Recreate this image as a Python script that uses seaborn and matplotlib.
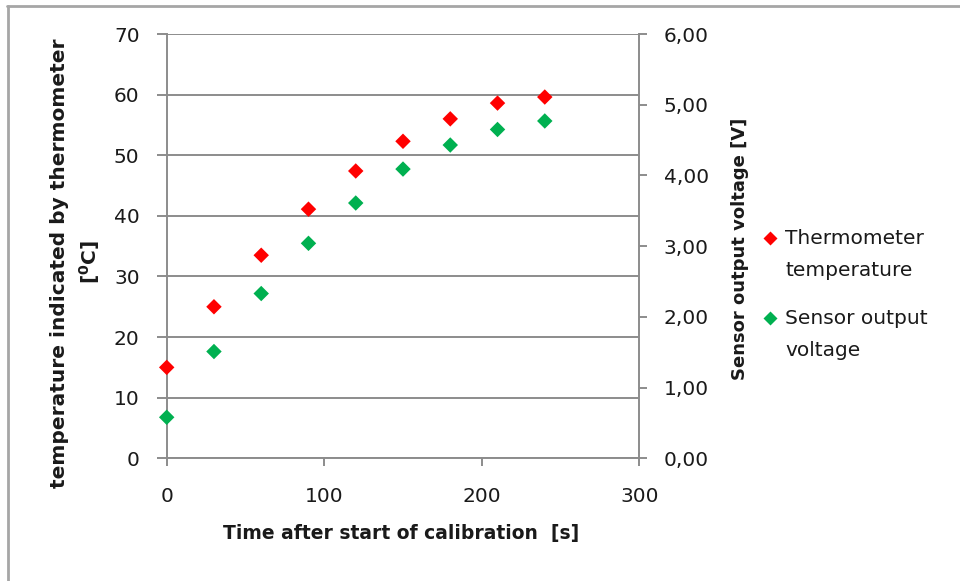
import matplotlib
matplotlib.use("Agg")
import matplotlib.pyplot as plt
import seaborn as sns
import pandas as pd
from matplotlib.lines import Line2D

# Calibration measurements
time_s = [0, 30, 60, 90, 120, 150, 180, 210, 240]
thermometer_c = [15.0, 25.0, 33.5, 41.1, 47.4, 52.3, 56.0, 58.6, 59.6]
sensor_v = [0.58, 1.51, 2.33, 3.04, 3.61, 4.09, 4.43, 4.65, 4.77]

x_ticks = [0, 100, 200, 300]
temp_ticks = [0, 10, 20, 30, 40, 50, 60, 70]
volt_ticks = [0, 1, 2, 3, 4, 5, 6]

series_names = ["Thermometer\ntemperature", "Sensor output\nvoltage"]

RED = "#FF0000"
GREEN = "#00B050"
GRID = "#8C8C8C"
TEXT = "#1A1A1A"

sns.set_theme(style="white")
plt.rcParams["font.family"] = ["DejaVu Sans"]
plt.rcParams["mathtext.fontset"] = "dejavusans"

df = pd.DataFrame({"time": time_s, "temp": thermometer_c, "volt": sensor_v})

W, H = 960, 581
fig = plt.figure(figsize=(W / 100, H / 100), dpi=100)
fig.patch.set_facecolor("white")


def fx(px):
    return px / W


def fy(py):
    return 1 - py / H


ax = fig.add_axes([fx(166.7), fy(458.3), (639.3 - 166.7) / W, (458.3 - 34) / H])
ax2 = ax.twinx()

sns.scatterplot(data=df, x="time", y="temp", ax=ax, marker="D", s=62,
                color=RED, edgecolor="none", zorder=5, legend=False,
                clip_on=False)
sns.scatterplot(data=df, x="time", y="volt", ax=ax2, marker="D", s=62,
                color=GREEN, edgecolor="none", zorder=5, legend=False,
                clip_on=False)

ax.set_xlim(0, 300)
ax.set_ylim(0, 70)
ax2.set_ylim(0, 6)
ax.set_xticks(x_ticks)
ax.set_yticks(temp_ticks)
ax2.set_yticks(volt_ticks)
ax2.set_yticklabels([f"{v:.2f}".replace(".", ",") for v in volt_ticks])

ax.grid(axis="y", color=GRID, linewidth=1.4)
ax.grid(axis="x", visible=False)
ax2.grid(False)
ax.set_axisbelow(True)

for a in (ax, ax2):
    a.spines["top"].set_visible(False)
    for side in ("left", "right", "bottom"):
        a.spines[side].set_color(GRID)
        a.spines[side].set_linewidth(1.4)
ax.spines["right"].set_visible(False)
ax2.spines["left"].set_visible(False)
ax2.spines["bottom"].set_visible(False)

ax.tick_params(axis="y", direction="out", length=7.5, width=1.4, color=GRID,
               pad=12, labelsize=14.5, labelcolor=TEXT, left=True)
ax.tick_params(axis="x", direction="out", length=6, width=1.4, color=GRID,
               pad=14.5, labelsize=14.5, labelcolor=TEXT, bottom=True)
ax2.tick_params(axis="y", direction="out", length=5.5, width=1.4, color=GRID,
                pad=12, labelsize=14.5, labelcolor=TEXT, right=True)

ax.set_xlabel("")
ax.set_ylabel("")
ax2.set_ylabel("")

# Axis titles
fig.text(fx(401), fy(534), "Time after start of calibration  [s]",
         ha="center", va="center", fontsize=13.5, fontweight="bold", color=TEXT)
fig.text(fx(60), fy(263), "temperature indicated by thermometer",
         ha="center", va="center", rotation=90, fontsize=14.5,
         fontweight="bold", color=TEXT)
fig.text(fx(90), fy(262), r"[$\mathbf{^{0}}$C]",
         ha="center", va="center", rotation=90, fontsize=14.5,
         fontweight="bold", color=TEXT)
fig.text(fx(740), fy(249), "Sensor output voltage [V]",
         ha="center", va="center", rotation=90, fontsize=13,
         fontweight="bold", color=TEXT)

# Legend: marker beside the first line of each two-line entry
legend_rows = [(RED, 238), (GREEN, 318)]
for (col, yrow), name in zip(legend_rows, series_names):
    fig.add_artist(Line2D([fx(770)], [fy(yrow)], transform=fig.transFigure,
                          linestyle="none", marker="D", markersize=7.5,
                          markerfacecolor=col, markeredgecolor="none"))
    fig.text(fx(785), fy(yrow - 9), name, ha="left", va="top",
             fontsize=14.5, color=TEXT, linespacing=1.85)

# Chart area border (top and left edges)
fig.add_artist(Line2D([fx(7), 1], [fy(5.5), fy(5.5)],
                      transform=fig.transFigure, color="#A6A6A6", linewidth=2))
fig.add_artist(Line2D([fx(7.5), fx(7.5)], [0, fy(5.5)],
                      transform=fig.transFigure, color="#A6A6A6", linewidth=2))

fig.savefig("out.png", dpi=100)
